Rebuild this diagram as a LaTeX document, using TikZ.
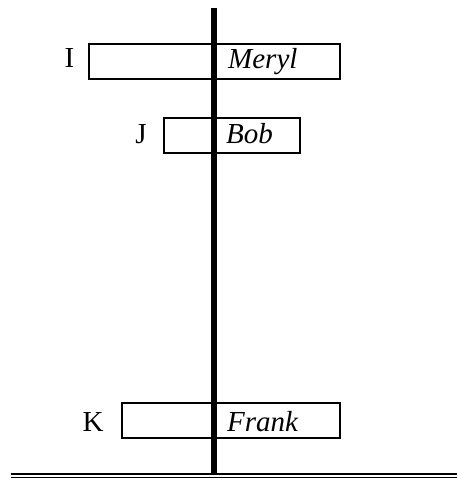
\documentclass[tikz,border=0pt]{standalone}
\usepackage{fontspec}
\setmainfont{Liberation Serif}
\begin{document}
\begin{tikzpicture}[x=1pt,y=-1pt,
  namebox/.style={draw,line width=2pt,rectangle,inner sep=0pt},
  nametext/.style={anchor=base west,inner sep=0pt,font=\fontsize{29}{34}\selectfont\itshape},
  rowlabel/.style={anchor=base,inner sep=0pt,font=\fontsize{29}{34}\selectfont}]
\useasboundingbox (0,0) rectangle (457,478);
\node[namebox,minimum width=251pt,minimum height=35.5pt] (boxI) at (214.5,61.75) {};
\node[namebox,minimum width=136.5pt,minimum height=35pt] (boxJ) at (231.75,135.5) {};
\node[namebox,minimum width=218pt,minimum height=35pt] (boxK) at (230.5,420.5) {};
\node[rowlabel] (labI) at (69.5,68) {I};
\node[rowlabel] (labJ) at (141,144) {J};
\node[rowlabel] (labK) at (93,431) {K};
\node[nametext] (meryl) at (228,68.3) {Meryl};
\node[nametext] (bob) at (226,144) {Bob};
\node[nametext] (frank) at (227,431) {Frank};
\coordinate (bartop) at (214,8);
\coordinate (barbot) at (214,474);
\draw[line width=6pt] (bartop) -- (barbot);
\coordinate (g1l) at (11,474);
\coordinate (g1r) at (457,474);
\coordinate (g2l) at (11,477.3);
\coordinate (g2r) at (457,477.3);
\draw[line width=2pt] (g1l) -- (g1r);
\draw[line width=1.3pt] (g2l) -- (g2r);
\end{tikzpicture}
\end{document}
